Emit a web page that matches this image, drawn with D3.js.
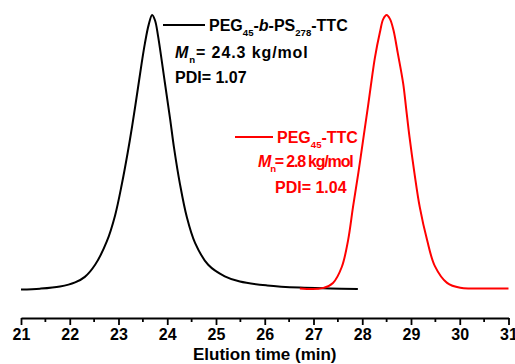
<!DOCTYPE html>
<html>
<head>
<meta charset="utf-8">
<script src="https://cdn.jsdelivr.net/npm/d3@7"></script>
<style>
  body { margin: 0; background: #fff; }
  svg { display: block; font-family: "Liberation Sans", Arial, sans-serif; font-weight: bold; }
</style>
</head>
<body>
<svg id="chart"></svg>
<script>
// elution time (min) and normalised RI signal
const blockTime = [21.00, 21.39, 21.80, 22.11, 22.31, 22.52, 22.76, 22.93, 23.07, 23.19, 23.28, 23.40, 23.48, 23.54, 23.62, 23.69,
	23.75, 23.81, 23.95, 24.06, 24.14, 24.26, 24.40, 24.57, 24.84, 25.18, 25.49, 26.05, 26.72, 27.34, 27.91] ;
const blockSignal = [0.000, 0.003, 0.011, 0.026, 0.046, 0.090, 0.175, 0.270, 0.385, 0.500, 0.595, 0.735, 0.830, 0.895, 0.965, 1.000,
	0.980, 0.925, 0.755, 0.620, 0.515, 0.385, 0.265, 0.170, 0.090, 0.048, 0.029, 0.015, 0.007, 0.004, 0.002] ;

const macroTime = [26.72, 27.19, 27.40, 27.58, 27.71, 27.81, 27.92, 28.03, 28.12, 28.19, 28.26, 28.36, 28.43, 28.50,
	28.57, 28.64, 28.73, 28.84, 28.90, 28.97, 29.07, 29.18, 29.33, 29.49, 29.74, 30.01, 30.30, 31.00] ;
const macroSignal = [0.004, 0.005, 0.024, 0.082, 0.180, 0.300, 0.425, 0.560, 0.670, 0.760, 0.845, 0.935, 0.985, 1.000,
	0.985, 0.945, 0.860, 0.750, 0.660, 0.555, 0.425, 0.300, 0.180, 0.085, 0.024, 0.006, 0.004, 0.004] ;

const xTicks = [21, 22, 23, 24, 25, 26, 27, 28, 29, 30, 31] ;
const xMinorTicks = [21.5, 22.5, 23.5, 24.5, 25.5, 26.5, 27.5, 28.5, 29.5, 30.5] ;

const blockLabel = [ {t:'PEG'}, {t:'45', sub:true}, {t:'-'}, {t:'b', it:true}, {t:'-PS'}, {t:'278', sub:true}, {t:'-TTC'} ] ;
const blockMn = [ {t:'M', it:true}, {t:'n', sub:true}, {t:'= 24.3 kg/mol'} ] ;
const blockPdi = [ {t:'PDI= 1.07'} ] ;
const macroLabel = [ {t:'PEG'}, {t:'45', sub:true}, {t:'-TTC'} ] ;
const macroMn = [ {t:'M', it:true}, {t:'n', sub:true}, {t:'= 2.8 kg/mol'} ] ;
const macroPdi = [ {t:'PDI= 1.04'} ] ;

const geom = { width: 515, height: 364, axisY: 318 } ;

const svg = d3.select('#chart')
	.attr('width', geom.width)
	.attr('height', geom.height) ;

const x = d3.scaleLinear().domain([21, 31]).range([21, 508.5]) ;
const y = d3.scaleLinear().domain([0, 1]).range([289.5, 15]) ;

// axis
const axis = svg.append('g')
	.attr('transform', 'translate(0 ' + geom.axisY + ')')
	.call(d3.axisBottom(x).tickValues(xTicks).tickSize(7).tickSizeOuter(0).tickPadding(4).tickFormat(d3.format('d'))) ;
axis.select('.domain').attr('stroke-width', 1.8) ;
axis.selectAll('.tick line').attr('stroke-width', 1.8) ;
axis.selectAll('.tick text')
	.attr('font-size', 16).attr('font-weight', 'bold').attr('font-family', '"Liberation Sans", Arial, sans-serif').attr('fill', '#000') ;

svg.append('g')
	.attr('transform', 'translate(0 ' + geom.axisY + ')')
	.selectAll('line')
	.data(xMinorTicks)
	.join('line')
	.attr('x1', d => x(d)).attr('x2', d => x(d))
	.attr('y1', 0).attr('y2', 4)
	.attr('stroke', '#000').attr('stroke-width', 1.8) ;

svg.append('text')
	.attr('x', x(26)).attr('y', 360)
	.attr('text-anchor', 'middle')
	.attr('font-size', 17)
	.text('Elution time (min)') ;

// curves
const line = d3.line()
	.x(d => x(d[0]))
	.y(d => y(d[1]))
	.curve(d3.curveCatmullRom.alpha(0.5)) ;

svg.append('path')
	.datum(d3.zip(blockTime, blockSignal))
	.attr('d', line)
	.attr('fill', 'none').attr('stroke', '#000').attr('stroke-width', 2) ;

svg.append('path')
	.datum(d3.zip(macroTime, macroSignal))
	.attr('d', line)
	.attr('fill', 'none').attr('stroke', '#ff0000').attr('stroke-width', 2) ;

// annotations
function rich( parts, px, py, colour, size, spacing ) {
	const t = svg.append('text').attr('x', px).attr('y', py).attr('fill', colour).attr('font-size', size) ;
	if( spacing ) t.attr('letter-spacing', spacing) ;
	let down = false ;
	parts.forEach(p => {
		const s = t.append('tspan').text(p.t) ;
		if( p.it ) s.attr('font-style', 'italic') ;
		if( p.sub && !down ) { s.attr('dy', 5).attr('font-size', size * 0.6) ; down = true ; }
		else if( !p.sub && down ) { s.attr('dy', -5) ; down = false ; }
	}) ;
	return t ;
}

svg.append('line')
	.attr('x1', 163).attr('x2', 205).attr('y1', 25).attr('y2', 25)
	.attr('stroke', '#000').attr('stroke-width', 1.8) ;
rich(blockLabel, 209, 31, '#000', 16) ;
rich(blockMn, 175, 58, '#000', 16, 0.9) ;
rich(blockPdi, 175, 83, '#000', 16) ;

svg.append('line')
	.attr('x1', 235).attr('x2', 273).attr('y1', 137).attr('y2', 137)
	.attr('stroke', '#ff0000').attr('stroke-width', 1.8) ;
rich(macroLabel, 277, 143, '#ff0000', 16) ;
rich(macroMn, 258, 167, '#ff0000', 16, -1.2) ;
rich(macroPdi, 275, 193, '#ff0000', 16) ;
</script>
</body>
</html>
